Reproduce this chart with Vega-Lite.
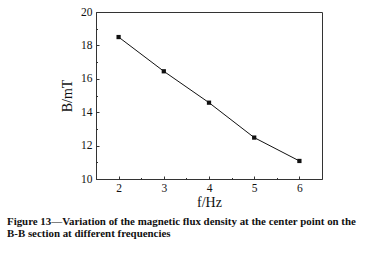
{
  "$schema": "https://vega.github.io/schema/vega-lite/v6.json",
  "width": 226,
  "height": 167,
  "autosize": "none",
  "padding": {"left": 96, "top": 12, "right": 48, "bottom": 74},
  "background": "white",
  "config": {
    "view": {"stroke": "#333", "strokeWidth": 1},
    "font": "Liberation Serif"
  },
  "title": {
    "text": ["Figure 13—Variation of the magnetic flux density at the center point on the", "B-B section at different frequencies"],
    "orient": "bottom",
    "anchor": "start",
    "frame": "group",
    "dx": -89,
    "offset": 6,
    "font": "Liberation Serif",
    "fontSize": 10.9,
    "fontWeight": "bold",
    "lineHeight": 12,
    "color": "#111"
  },
  "data": {"values": [
    {"f": 2, "B": 18.5},
    {"f": 3, "B": 16.45},
    {"f": 4, "B": 14.57},
    {"f": 5, "B": 12.48},
    {"f": 6, "B": 11.08}
  ]},
  "layer": [
    {
      "mark": {"type": "line", "color": "#111", "strokeWidth": 1},
      "encoding": {
        "x": {"field": "f", "type": "quantitative", "scale": {"domain": [1.5, 6.5], "nice": false, "zero": false},
          "axis": {"orient": "bottom", "title": "f/Hz", "values": [2, 3, 4, 5, 6], "grid": false, "tickSize": -3, "tickColor": "#333", "domainColor": "#333",
            "labelFont": "Liberation Serif", "labelFontSize": 11.5, "labelColor": "#111", "labelPadding": 6,
            "titleFont": "Liberation Serif", "titleFontSize": 14, "titleFontWeight": "normal", "titleColor": "#111", "titlePadding": 2}},
        "y": {"field": "B", "type": "quantitative", "scale": {"domain": [10, 20], "nice": false, "zero": false},
          "axis": {"orient": "left", "title": "B/mT", "values": [10, 12, 14, 16, 18, 20], "grid": false, "tickSize": -3, "tickColor": "#333", "domainColor": "#333",
            "labelFont": "Liberation Serif", "labelFontSize": 11.5, "labelColor": "#111", "labelPadding": 7,
            "titleFont": "Liberation Serif", "titleFontSize": 14, "titleFontWeight": "normal", "titleColor": "#111", "titlePadding": 6}}
      }
    },
    {
      "mark": {"type": "square", "color": "#111", "size": 18, "opacity": 1, "filled": true},
      "encoding": {
        "x": {"field": "f", "type": "quantitative", "scale": {"domain": [1.5, 6.5], "nice": false, "zero": false},
          "axis": {"orient": "bottom", "title": null, "values": [2.5, 3.5, 4.5, 5.5], "labels": false, "grid": false, "domain": false, "tickSize": -1.5, "tickColor": "#333"}},
        "y": {"field": "B", "type": "quantitative", "scale": {"domain": [10, 20], "nice": false, "zero": false},
          "axis": {"orient": "left", "title": null, "values": [11, 13, 15, 17, 19], "labels": false, "grid": false, "domain": false, "tickSize": -1.5, "tickColor": "#333"}}
      }
    }
  ],
  "resolve": {"axis": {"x": "independent", "y": "independent"}}
}
